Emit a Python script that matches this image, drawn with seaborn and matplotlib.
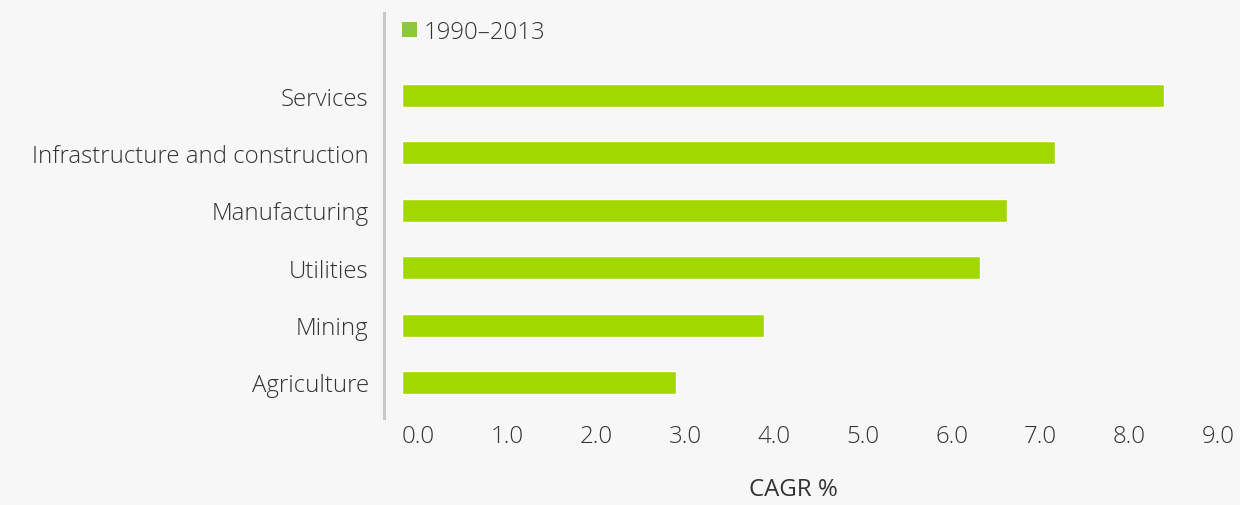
import matplotlib
matplotlib.use("Agg")
import matplotlib.pyplot as plt
import seaborn as sns
import pandas as pd
from matplotlib.patches import Patch

# ---- data ----
categories = ["Services", "Infrastructure and construction", "Manufacturing",
              "Utilities", "Mining", "Agriculture"]
cagr = [8.57, 7.35, 6.81, 6.50, 4.07, 3.08]
xtick_values = [0, 1, 2, 3, 4, 5, 6, 7, 8, 9]
xtick_labels = ["0.0", "1.0", "2.0", "3.0", "4.0", "5.0", "6.0", "7.0", "8.0", "9.0"]
series_label = "1990\u20132013"
x_title = "CAGR %"

BG = "#f7f7f7"
BAR = "#a2d800"
LEG = "#8dc63f"
TXT = "#333333"
FS = 17.3

sns.set_theme(style="white")
plt.rcParams['font.family'] = ['Open Sans', 'Noto Sans', 'DejaVu Sans']
plt.rcParams['font.weight'] = 'light'

df = pd.DataFrame({"category": categories, "value": cagr})

fig = plt.figure(figsize=(12.4, 5.06), dpi=100, facecolor=BG)
ax = fig.add_axes([384/1240, 87/506, 818/1240, 405/506])
ax.set_facecolor(BG)

sns.barplot(data=df, y="category", x="value", color=BAR, saturation=1,
            width=0.4, orient="h", ax=ax)

ax.set_xlim(-0.2025, 9.0)
ax.set_ylim(5.62, -1.44)

ax.set_xticks(xtick_values)
ax.set_xticklabels(xtick_labels, ha="left")
ax.tick_params(axis="both", length=0, labelsize=FS, colors=TXT)
ax.tick_params(axis="x", pad=4)
ax.tick_params(axis="y", pad=11)

ax.set_ylabel("")
ax.set_xlabel(x_title, fontsize=FS, color=TXT, labelpad=21)

for s in ["top", "right", "bottom"]:
    ax.spines[s].set_visible(False)
ax.spines["left"].set_color("#c8c8c8")
ax.spines["left"].set_linewidth(2.2)

leg = ax.legend(handles=[Patch(facecolor=LEG, edgecolor="none", label=series_label)],
                loc="upper left", bbox_to_anchor=(395/1240, 1 - 14/506),
                bbox_transform=fig.transFigure, frameon=False, fontsize=FS,
                handlelength=0.6, handleheight=0.6, handletextpad=0.3,
                borderaxespad=0, borderpad=0.3)
for t in leg.get_texts():
    t.set_color(TXT)

fig.savefig("out.png", dpi=100, facecolor=BG)
